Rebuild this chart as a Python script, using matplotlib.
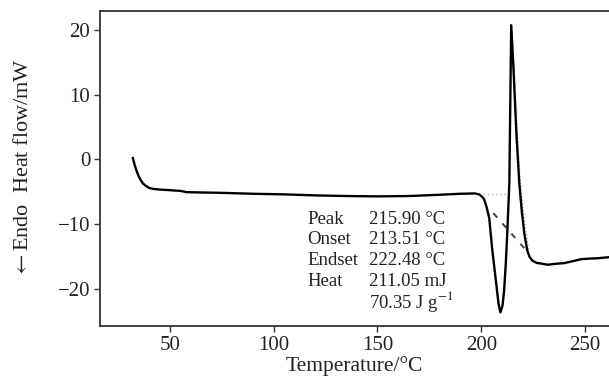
import matplotlib
matplotlib.use("Agg")
import matplotlib.pyplot as plt

plt.rcParams['font.family'] = ['Liberation Serif', 'DejaVu Serif']
plt.rcParams['mathtext.fontset'] = 'stix'

# DSC curve (temperature in °C, heat flow in mW)
temperature = [32.2, 33, 34, 35, 36, 37, 38.5, 40, 42, 45, 50, 55, 58, 65, 74, 90,
               106, 120, 135, 150, 165, 180, 190, 197, 199, 200.5, 201.4, 202.5,
               203.8, 205.3, 207.2, 208.3, 209.2, 210.2, 211, 211.8, 212.5, 213.5,
               214.4, 215.5, 216.9, 218.3, 219.5, 220.7, 222.1, 223.2, 224.5, 226.5,
               229.3, 232, 236, 240, 244, 248, 252, 256, 261]
heat_flow = [0.2, -0.8, -1.8, -2.6, -3.2, -3.7, -4.1, -4.4, -4.55, -4.65, -4.75, -4.85,
             -5.05, -5.1, -5.15, -5.3, -5.4, -5.55, -5.65, -5.7, -5.65, -5.45, -5.3,
             -5.25, -5.4, -5.8, -6.2, -7.3, -9.0, -14.0, -19.2, -22.3, -23.6, -22.6,
             -20.2, -16.0, -11.4, -3.7, 20.7, 14.0, 4.0, -3.7, -8.0, -11.4, -14.0,
             -15.0, -15.6, -15.95, -16.1, -16.25, -16.1, -16.0, -15.7, -15.4, -15.3,
             -15.25, -15.1]

# secondary light dotted trace along right flank of the peak
flank_temp = [214.6, 215.8, 217.3, 218.8, 220.2, 221.6, 222.8]
flank_flow = [20.5, 14.0, 4.0, -3.7, -8.0, -11.4, -14.0]

# baseline and tangent construction
baseline_temp = [199, 214]
baseline_flow = [-5.3, -5.3]
tangent_temp = [205.8, 221.0]
tangent_flow = [-8.3, -13.8]

xticks = [50, 100, 150, 200, 250]
yticks = [20, 10, 0, -10, -20]
ytick_labels = ['20', '10', '0', '\u221210', '\u221220']

annot_labels = ['Peak', 'Onset', 'Endset', 'Heat', '']
annot_values = ['215.90 \u00b0C', '213.51 \u00b0C', '222.48 \u00b0C', '211.05 mJ',
                '70.35 J g$^{\u22121}$']
annot_rows = [-9.27, -12.4, -15.6, -18.85, -21.9]

fig = plt.figure(figsize=(6.09, 3.78), dpi=100)
ax = fig.add_axes([0.164, 0.1376, 0.836, 0.8333])

ax.plot(baseline_temp, baseline_flow, color='#b0b0b0', lw=1.0, ls=(0, (1, 2)))
ax.plot(flank_temp, flank_flow, color='#a0a0a0', lw=1.0, ls=(0, (1, 1.5)))
ax.plot(tangent_temp, tangent_flow, color='#404040', lw=1.4, ls=(0, (3, 4)))
ax.plot(temperature, heat_flow, color='black', lw=1.7)

ax.set_xlim(16.3, 261.5)
ax.set_ylim(-25.7, 22.9)
ax.set_xticks(xticks)
ax.set_yticks(yticks)
ax.set_yticklabels(ytick_labels)
ax.tick_params(direction='out', length=4, width=1, labelsize=15, colors='#333333',
               labelcolor='#222222', pad=3)
for s in ['left', 'bottom', 'top']:
    ax.spines[s].set_linewidth(1.3)
    ax.spines[s].set_color('#333333')
ax.spines['right'].set_visible(False)

ax.set_xlabel('Temperature/\u00b0C', fontsize=15.5, labelpad=1, color='#222222')
ax.set_ylabel(r'$\leftarrow$Endo  Heat flow/mW', fontsize=16, labelpad=18,
              color='#222222')

for lab, val, y in zip(annot_labels, annot_values, annot_rows):
    ax.text(116.3, y, lab, fontsize=13.5, ha='left', va='center', color='#222222')
    ax.text(146.0, y, val, fontsize=13.5, ha='left', va='center', color='#222222')

fig.savefig('out.png', dpi=100)
